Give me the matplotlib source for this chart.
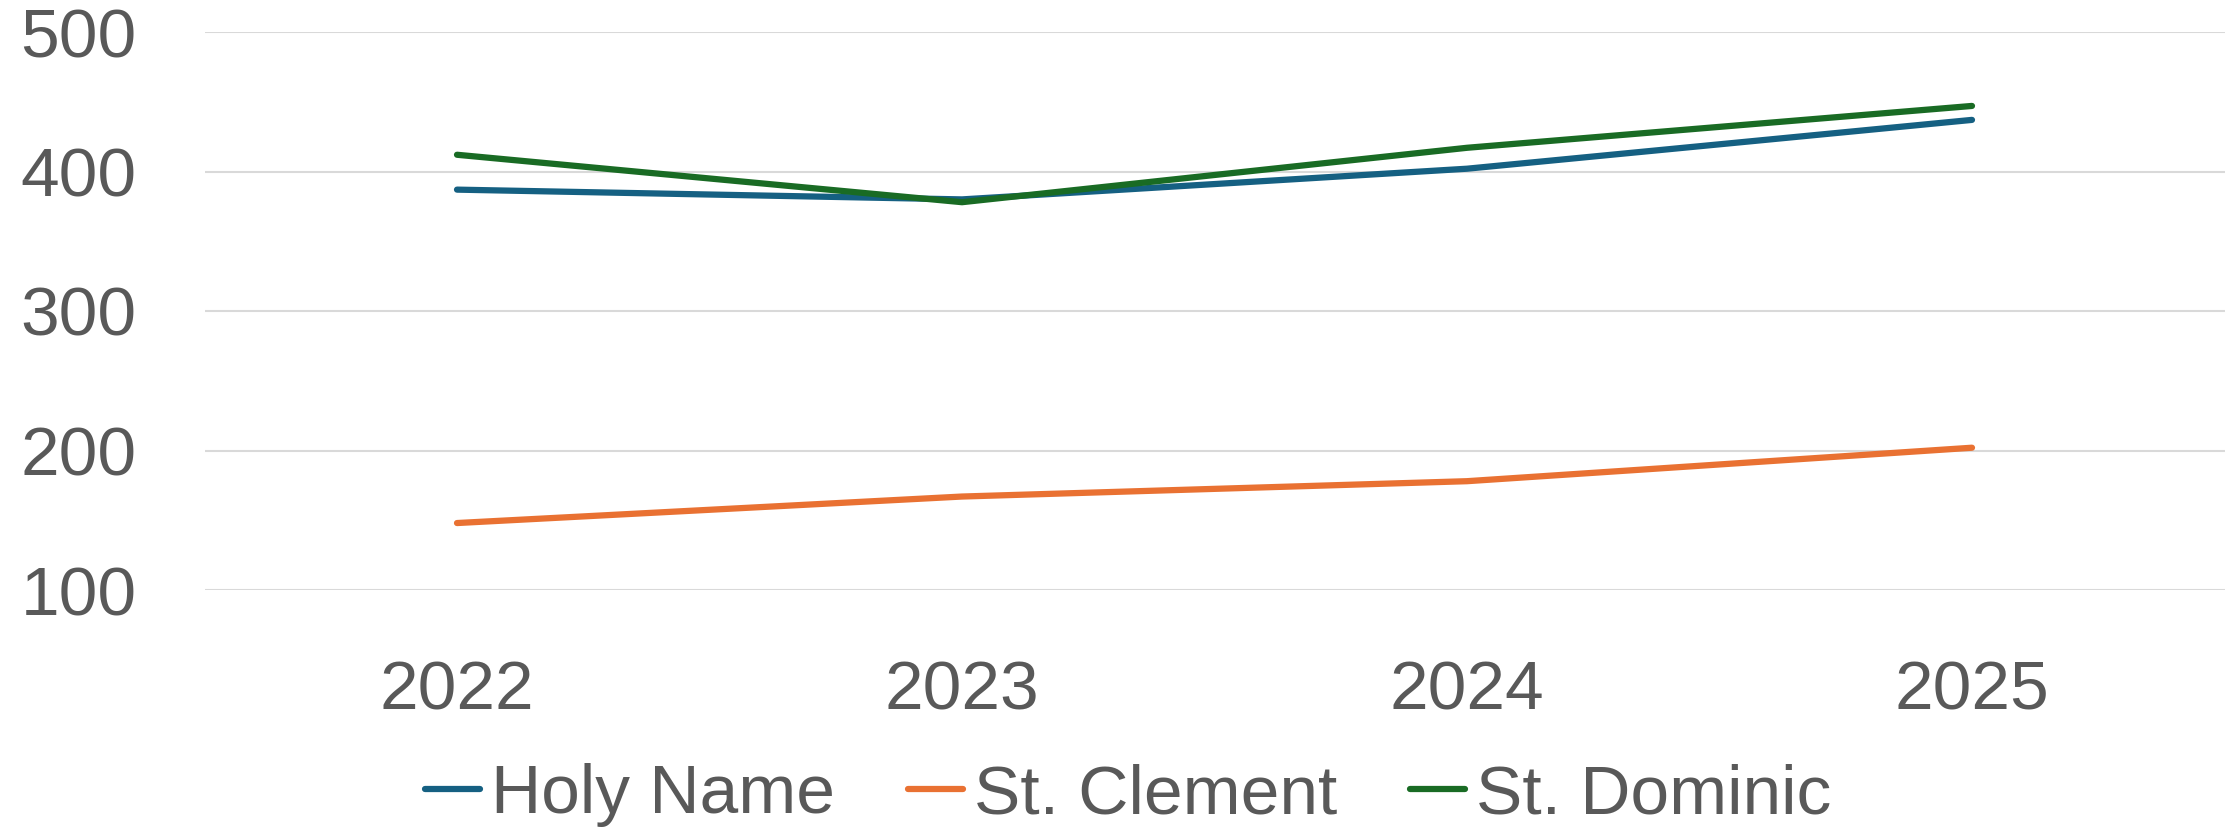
import matplotlib
matplotlib.use("Agg")
import matplotlib.pyplot as plt

years = ["2022", "2023", "2024", "2025"]
holy_name = [387, 380, 402, 437]
st_clement = [148, 167, 178, 202]
st_dominic = [412, 378, 417, 447]
y_ticks = [100, 200, 300, 400, 500]

W, H = 2228, 836
fig = plt.figure(figsize=(W / 100, H / 100), dpi=100)
plt.rcParams['font.family'] = ['Liberation Sans', 'DejaVu Sans']
ax = fig.add_axes([204.5 / W, (H - 590) / H, 2020 / W, 558 / H])

text_color = "#595959"
series = [("Holy Name", holy_name, "#156082"),
          ("St. Clement", st_clement, "#E97132"),
          ("St. Dominic", st_dominic, "#196B24")]
x = list(range(len(years)))
for name, vals, col in series:
    ax.plot(x, vals, color=col, lw=4.5, solid_capstyle="round",
            solid_joinstyle="round", label=name, zorder=3)

ax.set_xlim(-0.5, len(years) - 0.5)
ax.set_ylim(100, 500)
ax.set_yticks(y_ticks)
ax.set_xticks(x)
ax.set_xticklabels(years)
ax.grid(axis="y", color="#d9d9d9", lw=1.5, zorder=0)
ax.grid(axis="x", visible=False)
for s in ax.spines.values():
    s.set_visible(False)
ax.tick_params(axis="both", length=0, labelsize=50, labelcolor=text_color)
ax.tick_params(axis="y", pad=49)
ax.tick_params(axis="x", pad=50)

leg = fig.legend(loc="center", bbox_to_anchor=(1128 / W, (H - 795) / H),
                 ncol=3, frameon=False, fontsize=50, handlelength=0.8,
                 handletextpad=0.15, columnspacing=1.05, borderaxespad=0)
for t in leg.get_texts():
    t.set_color(text_color)

fig.savefig("out.png", dpi=100)
